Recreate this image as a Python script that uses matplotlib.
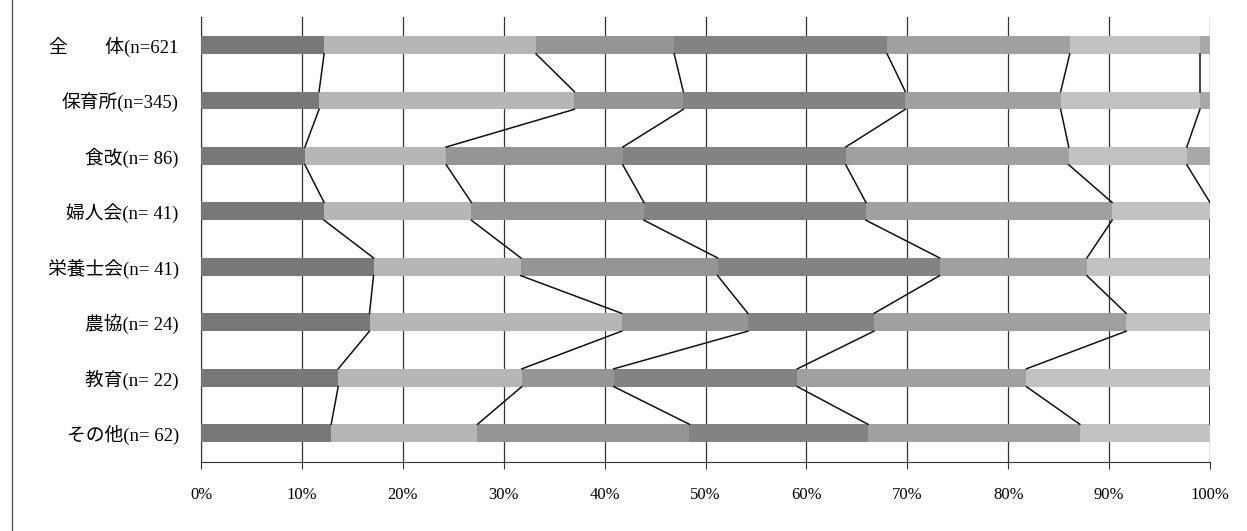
import numpy as np
import matplotlib.pyplot as plt

plt.rcParams['font.family'] = ['Liberation Serif', 'Noto Sans CJK JP', 'DejaVu Sans']

# categories (top to bottom)
labels = ['全　　体(n=621', '保育所(n=345)', '食改(n= 86)', '婦人会(n= 41)',
          '栄養士会(n= 41)', '農協(n= 24)', '教育(n= 22)', 'その他(n= 62)']

# share of each answer category (%)
seg1 = [12.2, 11.7, 10.3, 12.2, 17.1, 16.7, 13.6, 12.9]
seg2 = [21.0, 25.3, 14.0, 14.6, 14.6, 25.0, 18.2, 14.5]
seg3 = [13.7, 10.8, 17.5, 17.1, 19.5, 12.5, 9.1, 21.0]
seg4 = [21.1, 22.0, 22.1, 22.0, 22.0, 12.5, 18.2, 17.7]
seg5 = [18.1, 15.4, 22.1, 24.4, 14.6, 25.0, 22.7, 21.0]
seg6 = [12.9, 13.8, 11.7, 9.7, 12.2, 8.3, 18.2, 12.9]
seg7 = [1.0, 1.0, 2.3, 0.0, 0.0, 0.0, 0.0, 0.0]

xticks = [0, 10, 20, 30, 40, 50, 60, 70, 80, 90, 100]

series = [seg1, seg2, seg3, seg4, seg5, seg6, seg7]
colors = ['#787878', '#b6b6b6', '#959595', '#838383', '#a0a0a0', '#c2c2c2', '#a8a8a8']

fig = plt.figure(figsize=(12.47, 5.31), dpi=100)
ax = fig.add_axes([201 / 1247, 1 - 462 / 531, 1009 / 1247, 445 / 531])

y = np.arange(len(labels))
h = 0.32
left = np.zeros(len(labels))
bounds = []
for vals, c in zip(series, colors):
    vals = np.array(vals)
    ax.barh(y, vals, left=left, height=h, color=c, edgecolor='none', zorder=3)
    left = left + vals
    bounds.append(left.copy())

# series lines between neighbouring bars
for b in bounds[:-1]:
    for i in range(len(labels) - 1):
        ax.plot([b[i], b[i + 1]], [y[i] + h / 2, y[i + 1] - h / 2],
                color='#111111', lw=1.1, zorder=4)

ax.set_xlim(0, 100)
ax.set_ylim(len(labels) - 1 + 0.52, -0.505)
ax.set_xticks(xticks)
ax.set_xticklabels([f'{t}%' for t in xticks], fontsize=12)
ax.set_yticks(y)
ax.set_yticklabels(labels, fontsize=13.5)
ax.tick_params(axis='y', length=0, pad=16)
ax.tick_params(axis='x', length=5, pad=13, color='#333333')
ax.grid(axis='x', color='#333333', lw=0.9, zorder=0)
for s in ['top', 'right']:
    ax.spines[s].set_visible(False)
ax.spines['left'].set_color('#333333')
ax.spines['bottom'].set_color('#333333')

# page border on the left
fig.add_artist(plt.Line2D([12 / 1247, 12 / 1247], [0, 1], color='#555555', lw=1))

fig.savefig('out.png', dpi=100)
